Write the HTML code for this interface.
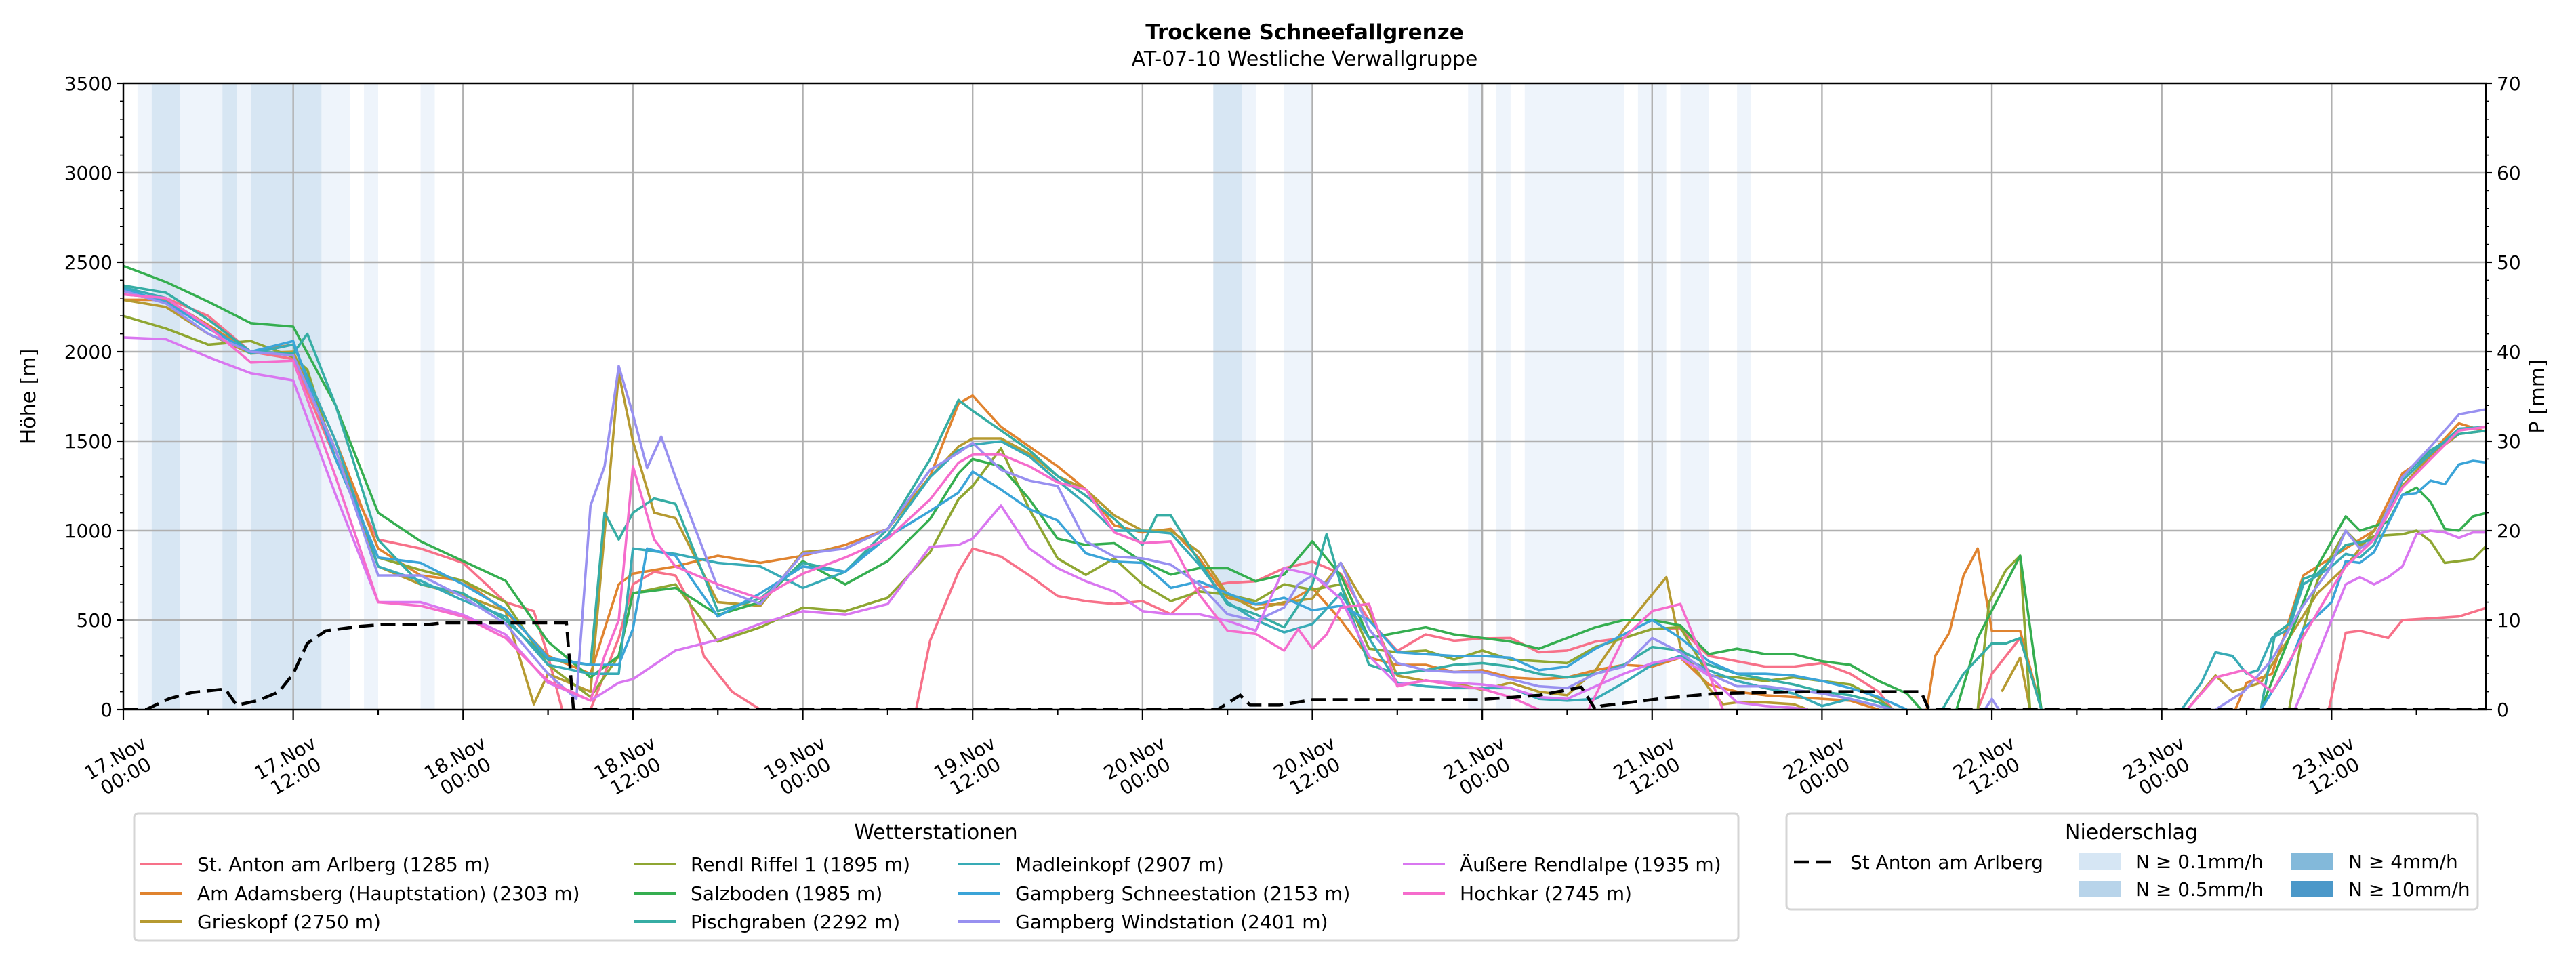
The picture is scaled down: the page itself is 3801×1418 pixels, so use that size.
<!DOCTYPE html>
<html><head><meta charset="utf-8"><style>
html,body{margin:0;padding:0;background:#fff;}
svg{display:block;font-family:"DejaVu Sans","Liberation Sans",sans-serif;}
</style></head><body>
<svg id="chart" xmlns="http://www.w3.org/2000/svg" width="3801" height="1418" viewBox="0 0 3801 1418">
<text x="1925" y="58" text-anchor="middle" font-size="31" font-weight="bold">Trockene Schneefallgrenze</text>
<text x="1925" y="97" text-anchor="middle" font-size="30">AT-07-10 Westliche Verwallgruppe</text>
<defs><clipPath id="plotclip"><rect x="182" y="123" width="3486" height="924"/></clipPath></defs>
<g id="bands" clip-path="url(#plotclip)"></g>
<g id="grid"></g>
<g id="series" clip-path="url(#plotclip)"></g>
<g id="axes"></g>
<text transform="translate(52,585) rotate(-90)" text-anchor="middle" font-size="30">Höhe [m]</text>
<text transform="translate(3754,585) rotate(-90)" text-anchor="middle" font-size="30">P [mm]</text>
<g id="legend1">
<rect x="198" y="1200" width="2367" height="188" rx="6" fill="#fff" stroke="#d5d5d5" stroke-width="3"/>
<text x="1381" y="1238" text-anchor="middle" font-size="30">Wetterstationen</text>
</g>
<g id="legend2">
<rect x="2636" y="1200" width="1020" height="142" rx="6" fill="#fff" stroke="#d5d5d5" stroke-width="3"/>
<text x="3145" y="1238" text-anchor="middle" font-size="30">Niederschlag</text>
</g>
</svg>
<script>
const stationNames = ["St. Anton am Arlberg (1285 m)","Am Adamsberg (Hauptstation) (2303 m)","Grieskopf (2750 m)","Rendl Riffel 1 (1895 m)","Salzboden (1985 m)","Pischgraben (2292 m)","Madleinkopf (2907 m)","Gampberg Schneestation (2153 m)","Gampberg Windstation (2401 m)","Äußere Rendlalpe (1935 m)","Hochkar (2745 m)"];
const yTicks = [0,500,1000,1500,2000,2500,3000,3500];
const y2Ticks = [0,10,20,30,40,50,60,70];
const xTickHours = [0,12,24,36,48,60,72,84,96,108,120,132,144,156];
const xTickLabels = [["17.Nov","00:00"],["17.Nov","12:00"],["18.Nov","00:00"],["18.Nov","12:00"],["19.Nov","00:00"],["19.Nov","12:00"],["20.Nov","00:00"],["20.Nov","12:00"],["21.Nov","00:00"],["21.Nov","12:00"],["22.Nov","00:00"],["22.Nov","12:00"],["23.Nov","00:00"],["23.Nov","12:00"]];
const precipBands = [[1,2,1],[2,4,2],[4,7,1],[7,8,2],[8,9,1],[9,14,2],[14,16,1],[17,18,1],[21,22,1],[77,79,2],[79,80,1],[82,84,1],[95,96,1],[97,98,1],[99,106,1],[107,109,1],[110,112,1],[114,115,1]];
const precipStAnton = [[0,0],[1.6,0],[3.2,1.2],[4.8,1.9],[7.2,2.3],[8,0.5],[9.5,1],[11,2],[12,4],[13,7.4],[14.3,8.8],[16.7,9.3],[18.3,9.5],[21.5,9.5],[22.6,9.7],[31.3,9.7],[31.8,0],[77.3,0],[78.9,1.6],[79.6,0.5],[81.7,0.5],[84,1.1],[95.7,1.1],[100,1.6],[103,2.5],[104,0],[104.4,0.4],[109,1.3],[112.5,1.8],[119,2],[127,2],[127.5,0.2],[128,0],[167,0]];
const sStAnton = [[0,2320],[3,2300],[6,2200],[9,2000],[12,1960],[15,1400],[18,950],[21,900],[24,820],[27,600],[29,550],[30,300],[31,0],[32,null],[33,0],[35,400],[36,700],[37.5,770],[39,750],[40,600],[41,300],[42,200],[43,100],[45,0],[46,null],[56,0],[57,386],[59,770],[60,900],[62,855],[64,750],[66,635],[68,606],[70,590],[72,606],[74,533],[76,680],[78,708],[80,717],[82,790],[84,827],[86,760],[88,500],[90,328],[92,420],[94,385],[96,398],[98,400],[100,320],[102,330],[104,380],[106,400],[108,450],[110,450],[112,300],[114,270],[116,240],[118,240],[120,260],[122,200],[124,100],[125,0],[126,null],[131,0],[132,200],[134,400],[135.5,0],[136,null],[155.8,0],[157,430],[158,440],[160,400],[161,500],[163,510],[165,520],[167,570]];
const sAdamsberg = [[0,2290],[3,2290],[6,2150],[9,2000],[12,2040],[15,1500],[18,900],[21,750],[24,720],[27,550],[30,300],[33,200],[35,700],[36,760],[39,800],[42,860],[45,820],[48,860],[51,920],[54,1010],[57,1305],[59,1710],[60,1755],[62,1580],[64,1470],[66,1360],[68,1230],[70,1030],[72,990],[74,1010],[76,845],[78,625],[80,588],[82,588],[84,680],[86,500],[88,290],[90,250],[92,250],[94,210],[96,220],[98,180],[100,170],[102,180],[104,220],[106,250],[108,240],[110,290],[112,140],[114,100],[116,80],[118,70],[120,60],[122,50],[124,0],[125,null],[127.4,0],[128,300],[129,430],[130,750],[131,900],[132,440],[134,440],[135.5,0],[136,null],[149.2,0],[150,150],[151.8,200],[153,500],[154,750],[156,850],[157,900],[159,1000],[161,1320],[163,1430],[165,1600],[167,1550]];
const sGrieskopf = [[0,2290],[3,2250],[6,2100],[9,1990],[12,2000],[15,1450],[18,800],[21,700],[24,640],[27,550],[29,30],[30,200],[33,100],[35,1880],[36,1500],[37.5,1100],[39,1070],[42,600],[45,580],[48,880],[51,900],[54,1010],[57,1300],[59,1470],[60,1515],[62,1515],[64,1430],[66,1305],[68,1230],[70,1085],[72,1000],[74,1000],[76,880],[78,643],[80,560],[82,600],[84,620],[86,820],[88,550],[90,190],[92,160],[94,150],[96,110],[98,150],[100,100],[102,80],[104,220],[106,450],[109,740],[110,350],[112,120],[113,30],[114,40],[116,40],[118,30],[119,0],[120,null],[132.7,100],[134,290],[134.7,0],[135,null],[145.8,0],[147.8,190],[149,100],[151,150],[153,400],[155,650],[157,800],[159,1000],[161,1250],[163,1420],[165,1540],[167,1560]];
const sRendl = [[0,2200],[3,2130],[6,2040],[9,2060],[12,1970],[13,1900],[15,1400],[18,850],[21,780],[24,720],[27,600],[30,250],[33,70],[35,300],[36,650],[39,700],[42,380],[45,460],[48,570],[51,550],[54,625],[57,880],[59,1176],[60,1250],[62,1460],[64,1120],[66,845],[68,753],[70,845],[72,700],[74,606],[76,660],[78,643],[80,606],[82,700],[84,670],[86,700],[88,340],[90,320],[92,330],[94,280],[96,330],[98,280],[100,270],[102,260],[104,350],[106,400],[108,450],[110,460],[112,190],[114,180],[116,160],[118,180],[120,160],[122,140],[124,60],[125,0],[126,null],[131,0],[131.8,600],[133,780],[134,860],[134.7,0],[135,null],[153,0],[154,450],[155,720],[157,1000],[158,920],[159,970],[161,980],[162,1000],[163,940],[164,820],[165,830],[166,840],[167,920]];
const sSalzboden = [[0,2480],[3,2390],[6,2280],[9,2160],[12,2140],[15,1700],[18,1100],[21,940],[24,830],[27,720],[30,380],[33,180],[35,300],[36,650],[39,680],[42,530],[45,600],[48,830],[51,700],[54,830],[57,1066],[59,1320],[60,1400],[62,1360],[64,1176],[66,955],[68,920],[70,930],[72,827],[74,755],[76,790],[78,790],[80,717],[82,755],[84,940],[86,750],[88,400],[90,430],[92,460],[94,420],[96,400],[98,380],[100,340],[102,400],[104,460],[106,500],[108,500],[110,470],[112,310],[114,340],[116,310],[118,310],[120,270],[122,250],[124,160],[126,90],[127,0],[128,null],[129.5,0],[131,400],[134,860],[135.5,0],[136,null],[151,0],[153,400],[155,800],[157,1080],[158,1000],[160,1050],[161,1200],[162,1240],[163,1160],[164,1010],[165,1000],[166,1080],[167,1100]];
const sPischgraben = [[0,2370],[3,2330],[6,2180],[9,2000],[12,1990],[13,2100],[15,1700],[18,950],[21,700],[24,650],[27,500],[30,280],[33,250],[34,1100],[35,950],[36,1100],[37.5,1180],[39,1150],[42,550],[45,620],[48,820],[51,770],[54,1010],[57,1400],[59,1730],[60,1670],[62,1560],[64,1450],[66,1305],[68,1195],[70,1066],[72,920],[73,1085],[74,1085],[76,827],[78,588],[80,533],[82,460],[84,700],[85,980],[86,700],[88,250],[90,200],[92,220],[94,250],[96,260],[98,240],[100,200],[102,180],[104,200],[106,250],[108,350],[110,330],[112,250],[114,200],[116,170],[118,140],[120,100],[122,80],[124,40],[125,0],[126,null],[128.5,0],[130,200],[132,370],[133,370],[134,400],[135.5,0],[136,null],[151,0],[152,420],[153,480],[154,730],[155,760],[157,920],[159,950],[161,1300],[163,1450],[165,1540],[167,1560]];
const sMadleinkopf = [[0,2360],[3,2300],[6,2140],[9,1990],[12,2040],[15,1500],[18,800],[21,720],[24,610],[27,520],[30,250],[33,200],[35,200],[36,900],[39,870],[42,820],[45,800],[48,680],[51,770],[54,975],[57,1300],[59,1450],[60,1480],[62,1500],[64,1415],[66,1280],[68,1150],[70,1000],[72,1000],[74,985],[76,810],[78,600],[80,500],[82,432],[84,478],[86,650],[88,400],[90,150],[92,130],[94,120],[96,120],[98,120],[100,60],[102,50],[104,60],[106,150],[108,250],[110,300],[112,220],[114,160],[116,120],[118,90],[120,20],[122,60],[124,20],[125,0],[126,null],[145.4,0],[146.8,150],[147.8,320],[149,300],[150,200],[150.8,220],[151.8,400],[153,450],[154,700],[156,800],[157,870],[158,850],[159,920],[161,1280],[163,1430],[165,1570],[167,1580]];
const sSchneestation = [[0,2350],[3,2280],[6,2130],[9,2000],[12,2060],[15,1400],[18,850],[21,820],[24,700],[27,560],[30,290],[33,250],[35,250],[36,450],[37,900],[39,860],[42,520],[45,650],[48,800],[51,770],[54,965],[57,1110],[59,1213],[60,1330],[62,1230],[64,1120],[66,1057],[68,873],[70,827],[72,820],[74,680],[76,717],[78,650],[80,588],[82,625],[84,555],[86,580],[88,500],[90,320],[92,310],[94,300],[96,300],[98,290],[100,220],[102,240],[104,340],[106,420],[108,500],[110,400],[112,270],[114,200],[116,200],[118,190],[120,160],[122,120],[124,70],[126,0],[127,null],[151,0],[153,250],[154,450],[156,600],[157,830],[158,820],[159,880],[161,1200],[162,1210],[163,1280],[164,1260],[165,1370],[166,1390],[167,1380]];
const sWindstation = [[0,2340],[3,2270],[6,2100],[9,2000],[12,1980],[15,1450],[18,750],[21,750],[24,630],[27,480],[30,200],[32,60],[33,1140],[34,1360],[35,1920],[36,1650],[37,1350],[38,1525],[39,1300],[42,680],[45,590],[48,870],[51,900],[54,1010],[57,1340],[59,1435],[60,1490],[62,1340],[64,1280],[66,1250],[68,940],[70,855],[72,845],[74,810],[76,700],[78,533],[80,496],[82,570],[83,700],[84,750],[85,700],[86,820],[88,450],[90,260],[92,220],[94,210],[96,210],[98,170],[100,130],[102,120],[104,200],[106,240],[108,400],[110,320],[112,200],[114,130],[116,130],[118,110],[120,90],[122,60],[124,20],[125,0],[126,null],[131.5,0],[132,60],[132.5,0],[133,null],[147.8,0],[149.8,100],[151.8,280],[153.8,560],[155.8,780],[157,1000],[158,900],[159,950],[161,1300],[163,1470],[165,1650],[167,1680]];
const sRendlalpe = [[0,2080],[3,2070],[6,1970],[9,1880],[12,1840],[15,1200],[18,600],[21,600],[24,530],[27,420],[30,150],[33,50],[35,150],[36,170],[39,330],[42,390],[45,480],[48,550],[51,530],[54,590],[57,910],[59,920],[60,955],[62,1140],[64,900],[66,790],[68,717],[70,660],[72,550],[74,533],[76,533],[78,496],[80,441],[82,790],[84,755],[86,620],[88,300],[90,140],[92,160],[94,150],[96,140],[98,120],[100,70],[102,60],[104,130],[106,200],[108,260],[110,290],[112,190],[114,40],[116,20],[118,10],[119,0],[120,null],[153.4,0],[155,300],[157,700],[158,740],[159,700],[160,740],[161,800],[162,980],[163,1000],[164,990],[165,960],[166,990],[167,990]];
const sHochkar = [[0,2320],[3,2300],[6,2140],[9,1940],[12,1950],[15,1300],[18,600],[21,580],[24,520],[27,400],[30,160],[33,50],[34,300],[35,500],[36,1360],[37.5,950],[39,800],[42,700],[45,620],[48,760],[51,850],[54,955],[57,1175],[59,1380],[60,1425],[62,1425],[64,1360],[66,1270],[68,1230],[70,990],[72,930],[74,940],[76,643],[78,441],[80,423],[82,330],[83,450],[84,340],[85,420],[86,570],[88,590],[90,130],[92,164],[94,135],[96,115],[98,70],[100,0],[101,null],[103.5,0],[106,400],[108,550],[110,590],[112,200],[113,0],[114,null],[145.8,0],[147.8,180],[149.8,220],[151.8,100],[153.8,380],[155.8,650],[157,800],[159,950],[161,1240],[163,1400],[165,1560],[167,1580]];

const seriesList = [sStAnton,sAdamsberg,sGrieskopf,sRendl,sSalzboden,sPischgraben,sMadleinkopf,sSchneestation,sWindstation,sRendlalpe,sHochkar];
const seriesKeys = ["st-anton","am-adamsberg","grieskopf","rendl-riffel","salzboden","pischgraben","madleinkopf","gampberg-schneestation","gampberg-windstation","aeussere-rendlalpe","hochkar"];
const palette = ["#f77189","#e0832f","#b69a31","#8fa632","#35ae50","#36ada4","#38abb6","#3ba4d8","#9890f0","#d977f0","#f56ccc"];

const NS = "http://www.w3.org/2000/svg";
const X0 = 182, X1 = 3668, Y0 = 1047, Y1 = 123;
const H_MAX = 166.9;
function xs(h){ return X0 + h*(X1-X0)/H_MAX; }
function ys(m){ return Y0 - m*(Y0-Y1)/3500; }
function ys2(mm){ return Y0 - mm*(Y0-Y1)/70; }
function mk(tag, attrs, parent){ const e=document.createElementNS(NS,tag); for(const k in attrs) e.setAttribute(k,attrs[k]); parent.appendChild(e); return e; }

const gB = document.getElementById('bands');
const bandColors = {1:"#eef4fb",2:"#d7e6f3"};
precipBands.forEach(b=>{
  const r = mk('rect',{x:xs(b[0]),y:Y1,width:xs(b[1])-xs(b[0]),height:Y0-Y1,fill:bandColors[b[2]]},gB);
  
  
});

const gG = document.getElementById('grid');
yTicks.forEach(v=>{
  const l = mk('line',{x1:X0,x2:X1,y1:ys(v),y2:ys(v),stroke:"#b0b0b0","stroke-width":2.4},gG);
  
  
});
xTickHours.forEach(h=>{
  const l = mk('line',{x1:xs(h),x2:xs(h),y1:Y1,y2:Y0,stroke:"#b0b0b0","stroke-width":2.4},gG);
  
  
});

const gS = document.getElementById('series');
function pathFrom(pts, yf){
  let d="", pen=false;
  pts.forEach(p=>{
    if(p[1]===null){ pen=false; return; }
    d += (pen?"L":"M") + xs(p[0]).toFixed(1) + "," + yf(p[1]).toFixed(1);
    pen=true;
  });
  return d;
}
seriesList.forEach((s,i)=>{
  const p = mk('path',{d:pathFrom(s,ys),fill:"none",stroke:palette[i],"stroke-width":3.6,"stroke-linejoin":"round"},gS);
  
  
});
const pp = mk('path',{d:pathFrom(precipStAnton,ys2),fill:"none",stroke:"#000","stroke-width":4.5,"stroke-dasharray":"22,10"},gS);



const gA = document.getElementById('axes');
mk('rect',{x:X0,y:Y1,width:X1-X0,height:Y0-Y1,fill:"none",stroke:"#000","stroke-width":2.4},gA);
for(let v=0; v<=3500; v+=100){
  const major = v%500===0;
  mk('line',{x1:X0,x2:X0-(major?9:5),y1:ys(v),y2:ys(v),stroke:"#000","stroke-width":major?2.2:1.6},gA);
}
for(let v=0; v<=70; v+=2){
  const major = v%10===0;
  mk('line',{x1:X1,x2:X1+(major?9:5),y1:ys2(v),y2:ys2(v),stroke:"#000","stroke-width":major?2.2:1.6},gA);
}
for(let h=0; h<=H_MAX; h+=6){
  const major = h%12===0;
  mk('line',{x1:xs(h),x2:xs(h),y1:Y0,y2:Y0+(major?15:8),stroke:"#000","stroke-width":2.2},gA);
}
yTicks.forEach(v=>{
  const t = mk('text',{x:166,y:ys(v)+10,"text-anchor":"end","font-size":28},gA);
  t.textContent = v;
  
  
});
y2Ticks.forEach(v=>{
  const t = mk('text',{x:3684,y:ys2(v)+10,"text-anchor":"start","font-size":28},gA);
  t.textContent = v;
  
  
});
xTickHours.forEach((h,i)=>{
  const g = mk('g',{transform:"translate("+(xs(h)-4)+",1132) rotate(-30)"},gA);
  
  
  const t1 = mk('text',{x:0,y:-6,"text-anchor":"middle","font-size":28},g); t1.textContent = xTickLabels[i][0];
  const t2 = mk('text',{x:0,y:25,"text-anchor":"middle","font-size":28},g); t2.textContent = xTickLabels[i][1];
});

const gL = document.getElementById('legend1');
const colX = [207,935,1414,2070];
const rowY = [1275,1318,1360];
stationNames.forEach((n,i)=>{
  const c = Math.floor(i/3), r = i%3;
  const g = mk('g',{},gL);
  
  
  mk('line',{x1:colX[c],x2:colX[c]+62,y1:rowY[r],y2:rowY[r],stroke:palette[i],"stroke-width":4},g);
  const t = mk('text',{x:colX[c]+84,y:rowY[r]+10,"font-size":28},g); t.textContent = n;
});

const gL2 = document.getElementById('legend2');
const e0 = mk('g',{},gL2);


mk('line',{x1:2647,x2:2703,y1:1272,y2:1272,stroke:"#000","stroke-width":4.5,"stroke-dasharray":"22,10"},e0);
const tt = mk('text',{x:2730,y:1282,"font-size":28},e0); tt.textContent = "St Anton am Arlberg";
const patchLabels = ["N ≥ 0.1mm/h","N ≥ 0.5mm/h","N ≥ 4mm/h","N ≥ 10mm/h"];
const patchColors = ["#d6e6f4","#b8d4ea","#83b9da","#4b98c9"];
const pX = [3067,3067,3381,3381], pY = [1259,1300,1259,1300];
patchLabels.forEach((lab,i)=>{
  const g = mk('g',{},gL2);
  
  
  mk('rect',{x:pX[i],y:pY[i],width:62,height:24,fill:patchColors[i]},g);
  const t = mk('text',{x:pX[i]+84,y:pY[i]+22,"font-size":28},g); t.textContent = lab;
});
</script>
</body></html>
